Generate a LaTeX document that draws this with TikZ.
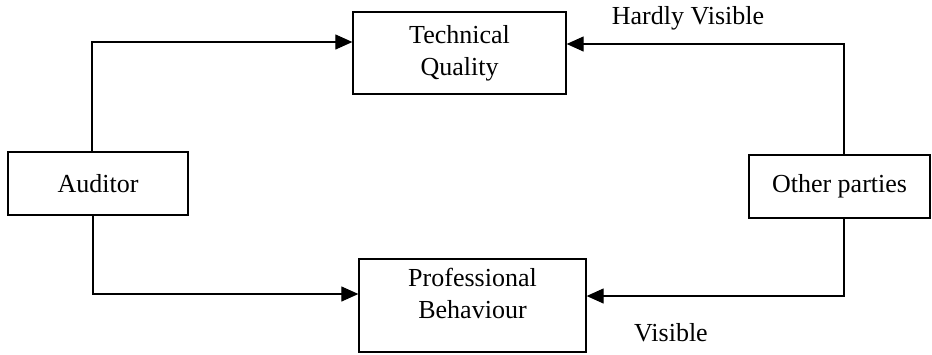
\documentclass[tikz,border=0pt]{standalone}
\usepackage{fontspec}
\setmainfont{Liberation Serif}
\usetikzlibrary{arrows.meta}
\begin{document}
\begin{tikzpicture}[x=1pt,y=1pt,
  box/.style={draw,line width=1.3pt,inner sep=0pt,align=center,
    font=\fontsize{26}{32}\selectfont},
  lbl/.style={inner sep=0pt,font=\fontsize{26}{32}\selectfont},
  arr/.style={line width=1.2pt,-{Triangle[length=17pt,width=15pt]}}]
\useasboundingbox (0,0) rectangle (932,-354);
\node[box,minimum width=213pt,minimum height=82pt] (tech) at (459.5,-53) {Technical\\Quality};
\node[box,minimum width=180pt,minimum height=63pt] (aud) at (98,-183.5) {Auditor};
\node[box,minimum width=227pt,minimum height=93pt,text depth=24pt] (prof) at (472.5,-305.5) {Professional\\Behaviour};
\node[box,minimum width=181pt,minimum height=63pt] (oth) at (839.5,-186.5) {Other parties};
\draw[arr] ([xshift=-6pt]aud.north) |- ([yshift=11pt]tech.west);
\draw[arr] ([xshift=-5pt]aud.south) |- ([yshift=11.5pt]prof.west);
\draw[arr] ([xshift=4.5pt]oth.north) |- ([yshift=9pt]tech.east);
\draw[arr] ([xshift=4.5pt]oth.south) |- ([yshift=9.5pt]prof.east);
\node[lbl] (hv) at (688,-18) {Hardly Visible};
\node[lbl] (vis) at (671,-333) {Visible};
\end{tikzpicture}
\end{document}
